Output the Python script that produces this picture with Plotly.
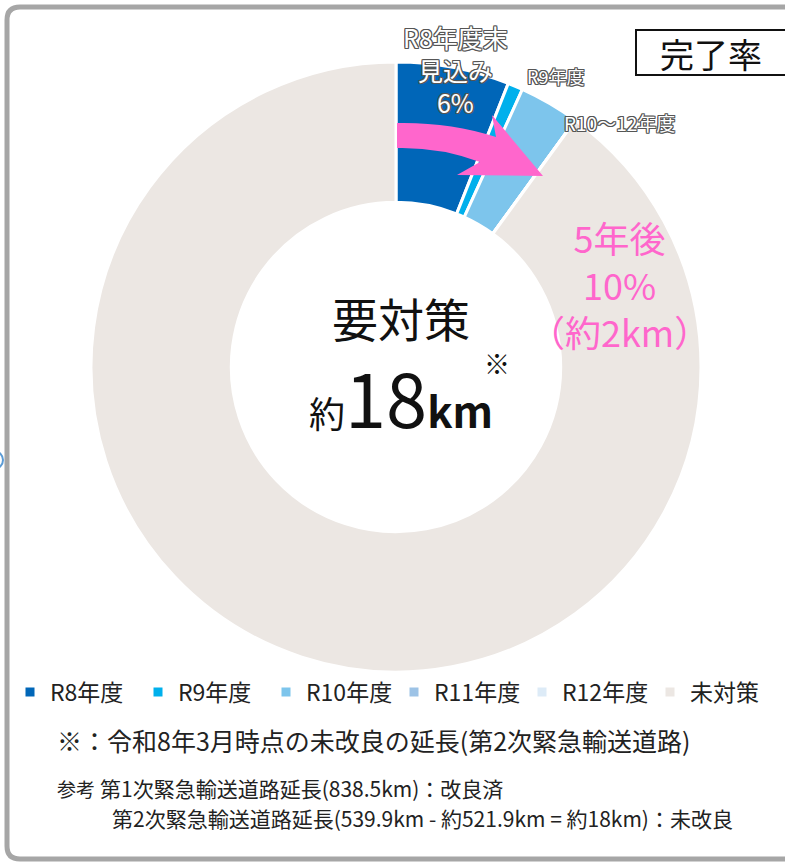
import plotly.graph_objects as go

W, H = 785, 863

# ---- data ----
labels = ["R8年度", "R9年度", "R10年度", "R11年度", "R12年度", "未対策"]
values = [6.0, 0.8, 3.2, 0.0, 0.0, 90.0]
colors = ["#0066B8", "#00B0EC", "#7DC5EC", "#9DC3E6", "#DDEBF7", "#ECE7E3"]

FONT = "Noto Sans CJK JP"

def px(x):
    return x / W

def py(y):
    return 1 - y / H

fig = go.Figure()
fig.add_trace(go.Pie(
    labels=labels, values=values, sort=False, direction="clockwise", rotation=0,
    hole=0.54, textinfo="none", hoverinfo="label+percent",
    marker=dict(colors=colors, line=dict(color="white", width=3)),
    domain=dict(x=[px(91), px(701)], y=[py(672), py(62)]),
    showlegend=True,
))

outline = ("-1px -1px 0 #555, 1px -1px 0 #555, -1px 1px 0 #555, 1px 1px 0 #555, "
           "0 1px 0 #555, 0 -1px 0 #555, 1px 0 0 #555, -1px 0 0 #555")
pink = "#FF66CC"

ann = []
def add(text, x, y, size, color="#111", xanchor="center", shadow=None, yanchor="middle"):
    f = dict(family=FONT, size=size, color=color)
    if shadow:
        f["shadow"] = shadow
    ann.append(dict(text=text, x=px(x), y=py(y), xref="paper", yref="paper",
                    xanchor=xanchor, yanchor=yanchor, showarrow=False, font=f))

add("R8年度末<br>見込み<br>6%", 455, 70, 25, "white", shadow=outline)
add("R9年度", 555, 76, 18, "white", shadow=outline)
add("R10～12年度", 619, 123, 19, "white", shadow=outline)

add("5年後<br>10%<br>（約2km）", 619, 284, 36, pink)

add("要対策", 401, 317, 46)
add("<span style='font-size:36px'>約</span><span style='font-size:74px'>18</span><span style='font-size:42px'><b>km</b></span>",
    401, 395, 36)
add("※", 497, 362, 26)

add("完了率", 711, 53, 34)

add("※：令和8年3月時点の未改良の延長(第2次緊急輸送道路)", 55, 740, 25, "#222", xanchor="left")
add("参考", 55, 788, 19, "#222", xanchor="left")
add("第1次緊急輸送道路延長(838.5km)：改良済", 98, 788, 21, "#222", xanchor="left")
add("第2次緊急輸送道路延長(539.9km - 約521.9km = 約18km)：未改良", 110, 818, 21, "#222", xanchor="left")

# curved pink arrow (pixel coordinates converted to paper)
arrow = (f"M {px(397)},{py(123)} Q {px(450)},{py(122)} {px(496)},{py(137)} "
         f"L {px(492)},{py(115)} L {px(543)},{py(176)} L {px(457)},{py(175)} "
         f"L {px(480)},{py(162)} Q {px(440)},{py(147)} {px(397)},{py(148)} Z")

frame = (f"M {px(800)},{py(7)} L {px(20)},{py(7)} Q {px(7)},{py(7)} {px(7)},{py(20)} "
         f"L {px(7)},{py(846)} Q {px(7)},{py(859)} {px(20)},{py(859)} L {px(800)},{py(859)}")

shapes = [
    dict(type="path", path=frame, xref="paper", yref="paper",
         line=dict(color="#A6A6A6", width=5), fillcolor="rgba(0,0,0,0)"),
    dict(type="path", path=arrow, xref="paper", yref="paper",
         line=dict(width=0), fillcolor=pink),
    dict(type="rect", x0=px(636), x1=px(800), y0=py(75), y1=py(30), xref="paper", yref="paper",
         line=dict(color="#111", width=2), fillcolor="white"),
    dict(type="circle", x0=px(-15), x1=px(3), y0=py(469), y1=py(451), xref="paper", yref="paper",
         line=dict(color="#5B9BD5", width=2)),
]

fig.update_layout(
    width=W, height=H, margin=dict(l=0, r=0, t=0, b=0),
    paper_bgcolor="white", plot_bgcolor="white",
    font=dict(family=FONT, color="#222"),
    annotations=ann, shapes=shapes,
    legend=dict(orientation="h", x=px(10), y=py(692), xanchor="left", yanchor="middle",
                font=dict(family=FONT, size=23, color="#222"),
                entrywidth=83, entrywidthmode="pixels", traceorder="normal"),
)

fig.write_html("out.html", config={"displayModeBar": False},
               post_script="document.body.style.margin='0';document.body.style.overflow='hidden';")
